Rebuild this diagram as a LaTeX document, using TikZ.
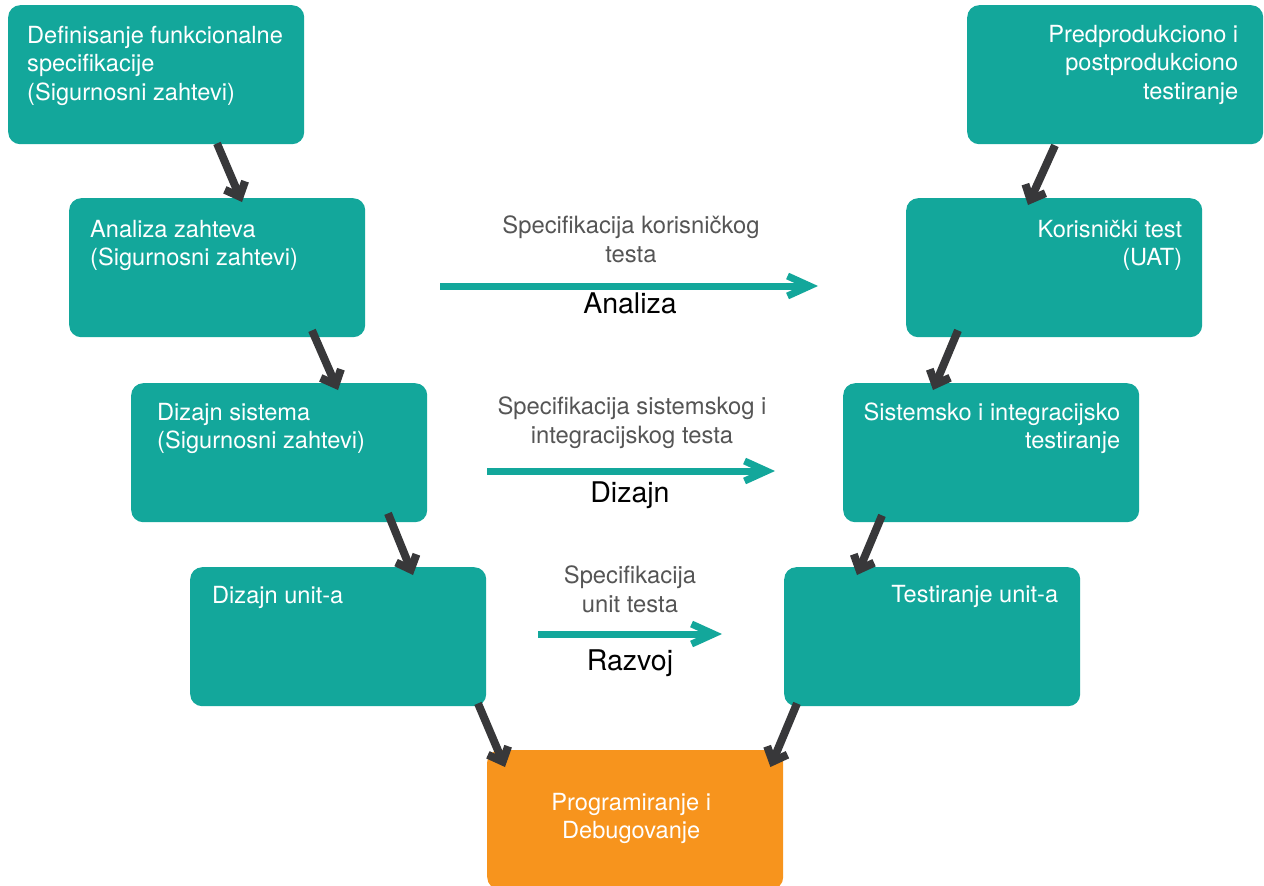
\documentclass[tikz,border=0pt]{standalone}
\usepackage{fontspec}
\setmainfont{TeX Gyre Heros}
\usetikzlibrary{arrows.meta,calc}
\definecolor{stepteal}{HTML}{13A79B}
\definecolor{codeorange}{HTML}{F7941D}
\definecolor{flowgray}{HTML}{38383A}
\definecolor{specgray}{HTML}{555555}

\begin{document}
\begin{tikzpicture}[x=1pt,y=-1pt,
  box/.style={draw=none, fill=stepteal, rounded corners=12pt,
    minimum width=296pt, minimum height=139pt, inner sep=0pt, anchor=north west},
  boxtext/.style={text=white, font=\fontsize{23.6}{28.5}\selectfont, inner sep=0pt},
  ltext/.style={boxtext, align=left, anchor=base west},
  rtext/.style={boxtext, align=right, anchor=base east},
  spec/.style={text=specgray, font=\fontsize{23.8}{28.5}\selectfont, inner sep=0pt,
    align=center, anchor=base},
  phase/.style={text=black, font=\fontsize{28.5}{32}\selectfont, inner sep=0pt, anchor=base},
  flow/.style={draw=flowgray, line width=8pt,
    -{Straight Barb[length=12pt,width=22pt]}},
  handoff/.style={draw=stepteal, line width=7pt,
    -{Straight Barb[length=22pt,width=20pt]}}]

\useasboundingbox (0,0) rectangle (1264,886);
\clip (0,0) rectangle (1264,886);

% left branch of the V
\node[box] (b1) at (8,5) {};
\node[box] (b2) at (69,198) {};
\node[box] (b3) at (131,383) {};
\node[box] (b4) at (190,567) {};
% bottom
\node[box, fill=codeorange] (prog) at (487,750) {};
% right branch of the V
\node[box] (t4) at (784,567) {};
\node[box] (t3) at (843,383) {};
\node[box] (t2) at (906,198) {};
\node[box] (t1) at (967,5) {};

% box captions (anchored at the baseline of their last line)
\node[ltext] (b1t) at ($(b1.north west)+(19,95)$)
  {Definisanje funkcionalne\\specifikacije\\(Sigurnosni zahtevi)};
\node[ltext] (b2t) at ($(b2.north west)+(21,67.5)$)
  {Analiza zahteva\\(Sigurnosni zahtevi)};
\node[ltext] (b3t) at ($(b3.north west)+(26,65.5)$)
  {Dizajn sistema\\(Sigurnosni zahtevi)};
\node[ltext] (b4t) at ($(b4.north west)+(22,36)$) {Dizajn unit-a};
\node[boxtext, align=center, anchor=base] (progt) at ($(prog.north)+(-4,88.5)$)
  {Programiranje i\\Debugovanje};
\node[rtext] (t4t) at ($(t4.north east)+(-22,35)$) {Testiranje unit-a};
\node[rtext] (t3t) at ($(t3.north east)+(-19,65.5)$)
  {Sistemsko i integracijsko\\testiranje};
\node[rtext] (t2t) at ($(t2.north east)+(-20,67.5)$) {Korisnički test\\(UAT)};
\node[rtext] (t1t) at ($(t1.north east)+(-25,94)$)
  {Predprodukciono i\\postprodukciono\\testiranje};

% flow between the stages
\draw[flow] ($(b1.south west)+(209,-1)$) -- ($(b2.north west)+(173,4)$);
\draw[flow] ($(b2.south west)+(243,-7)$) -- ($(b3.north west)+(207,7)$);
\draw[flow] ($(b3.south west)+(257,-9)$) -- ($(b4.north west)+(223,8)$);
\draw[flow] ($(b4.south west)+(288,-3)$) -- ($(prog.north west)+(18,17)$);
\draw[flow] ($(t4.south west)+(13,-3)$) -- ($(prog.north east)+(-13,17)$);
\draw[flow] ($(t3.south west)+(39,-7)$) -- ($(t4.north west)+(73,8)$);
\draw[flow] ($(t2.south west)+(52,-7)$) -- ($(t3.north west)+(90,7)$);
\draw[flow] ($(t1.south west)+(88,1)$) -- ($(t2.north west)+(122,7)$);

% test specifications handed across the V
\coordinate (a1) at (440,286);
\coordinate (a2) at (818,286);
\coordinate (d1) at (487,471);
\coordinate (d2) at (775,471);
\coordinate (r1) at (538,634);
\coordinate (r2) at (722,634);
\draw[handoff] (a1) -- (a2);
\draw[handoff] (d1) -- (d2);
\draw[handoff] (r1) -- (r2);

\node[spec] (as) at (631,262) {Specifikacija korisničkog\\testa};
\node[phase] (an) at (630,313) {Analiza};
\node[spec] (ds) at (632,443) {Specifikacija sistemskog i\\integracijskog testa};
\node[phase] (dn) at (630,502) {Dizajn};
\node[spec] (rs) at (630,612) {Specifikacija\\unit testa};
\node[phase] (rn) at (630,670) {Razvoj};
\end{tikzpicture}
\end{document}
